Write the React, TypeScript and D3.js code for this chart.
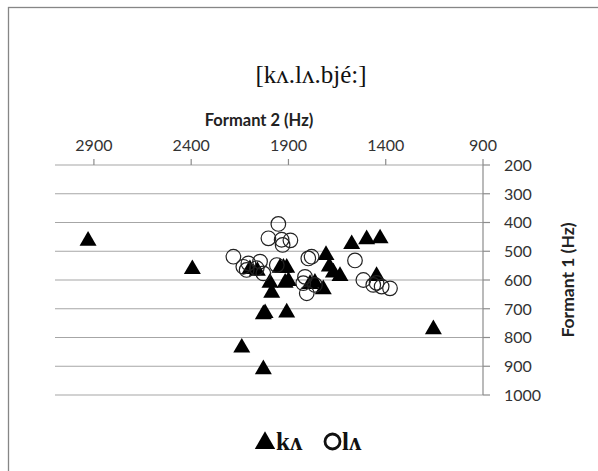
import React from "react";
import * as d3 from "d3";

// Formant data: [F2 (Hz), F1 (Hz)]
const kaF2 = [2930, 2394, 2098, 2060, 1943, 1909, 1995, 1917, 1986, 2029, 2020, 1909, 2140, 2029, 1155, 1575, 1498, 1429, 1447, 1707, 1690, 1669, 1635, 1721, 1764, 1789, 1926, 1900];
const kaF1 = [460, 559, 559, 565, 554, 554, 606, 606, 641, 716, 712, 710, 832, 907, 768, 472, 455, 452, 583, 510, 550, 571, 583, 629, 606, 611, 554, 600];

const laF2 = [1952, 2003, 1935, 1890, 1930, 2183, 2106, 2046, 2115, 2063, 1960, 2029, 1781, 1815, 1824, 1806, 1764, 1558, 1515, 1464, 1421, 1378, 1447, 2132, 1798];
const laF1 = [405, 455, 460, 462, 478, 519, 542, 536, 565, 559, 548, 577, 519, 589, 611, 646, 617, 532, 600, 617, 623, 629, 610, 554, 525];

const xTicks = [2900, 2400, 1900, 1400, 900];
const yTicks = [200, 300, 400, 500, 600, 700, 800, 900, 1000];

const title = "[kʌ.lʌ.bjé:]";
const xTitle = "Formant 2 (Hz)";
const yTitle = "Formant 1 (Hz)";
const legendLabels = ["kʌ", "lʌ"];

export default function App() {
  const W = 598, H = 471;
  const left = 55, right = 483, top = 165, bottom = 395;
  const x = d3.scaleLinear().domain([3100, 900]).range([left, right]);
  const y = d3.scaleLinear().domain([200, 1000]).range([top, bottom]);
  const tri = d3.symbol().type(d3.symbolTriangle).size(125)() as string;
  const triLeg = d3.symbol().type(d3.symbolTriangle).size(180)() as string;
  const sans = "Lato, 'Open Sans', sans-serif";
  const serif = "'Liberation Serif', 'DejaVu Serif', serif";

  return (
    <svg width={W} height={H} style={{ position: "absolute", left: 0, top: 0, background: "#fff" }}>
      <rect x={8.5} y={7.5} width={640} height={520} fill="#fff" stroke="#868686" strokeWidth={1.3} />
      <text x={311} y={83} textAnchor="middle" fontFamily={serif} fontSize={25} fill="#111">{title}</text>
      <text x={left + (right - left) / 2 - 10} y={126} textAnchor="middle" fontFamily={sans} fontWeight="bold" fontSize={16.5} fill="#222">{xTitle}</text>
      {/* gridlines */}
      {yTicks.map((t) => (
        <line key={"g" + t} x1={left} x2={right} y1={y(t)} y2={y(t)} stroke="#a6a6a6" strokeWidth={1.2} />
      ))}
      {/* right axis */}
      <line x1={right} x2={right} y1={top} y2={bottom} stroke="#8c8c8c" strokeWidth={1.2} />
      {yTicks.map((t) => (
        <g key={"yt" + t}>
          <line x1={right} x2={right + 7} y1={y(t)} y2={y(t)} stroke="#8c8c8c" strokeWidth={1.2} />
          <text x={504} y={y(t)} dy="0.36em" fontFamily={sans} fontSize={16} fill="#333">{t}</text>
        </g>
      ))}
      {/* top axis ticks */}
      {xTicks.map((t) => (
        <g key={"xt" + t}>
          <line x1={x(t)} x2={x(t)} y1={top} y2={top - 6} stroke="#8c8c8c" strokeWidth={1.2} />
          <text x={x(t)} y={151} textAnchor="middle" fontFamily={sans} fontSize={16} fill="#333">{t}</text>
        </g>
      ))}
      <text transform={`translate(574,${(top + bottom) / 2}) rotate(-90)`} textAnchor="middle" fontFamily={sans} fontWeight="bold" fontSize={17.5} fill="#222">{yTitle}</text>
      {/* triangles */}
      {kaF2.map((f, i) => (
        <path key={"k" + i} d={tri} transform={`translate(${x(f)},${y(kaF1[i]) + 1})`} fill="#000" />
      ))}
      {/* circles */}
      {laF2.map((f, i) => (
        <circle key={"l" + i} cx={x(f)} cy={y(laF1[i])} r={7.3} fill="none" stroke="#222" strokeWidth={1.2} />
      ))}
      {/* legend */}
      <path d={triLeg} transform="translate(265,443)" fill="#000" />
      <text x={276} y={450} fontFamily={serif} fontSize={25} fontWeight="bold" fill="#111">{legendLabels[0]}</text>
      <circle cx={332.5} cy={441.5} r={7.5} fill="none" stroke="#111" strokeWidth={2.8} />
      <text x={342} y={450} fontFamily={serif} fontSize={25} fontWeight="bold" fill="#111">{legendLabels[1]}</text>
    </svg>
  );
}
